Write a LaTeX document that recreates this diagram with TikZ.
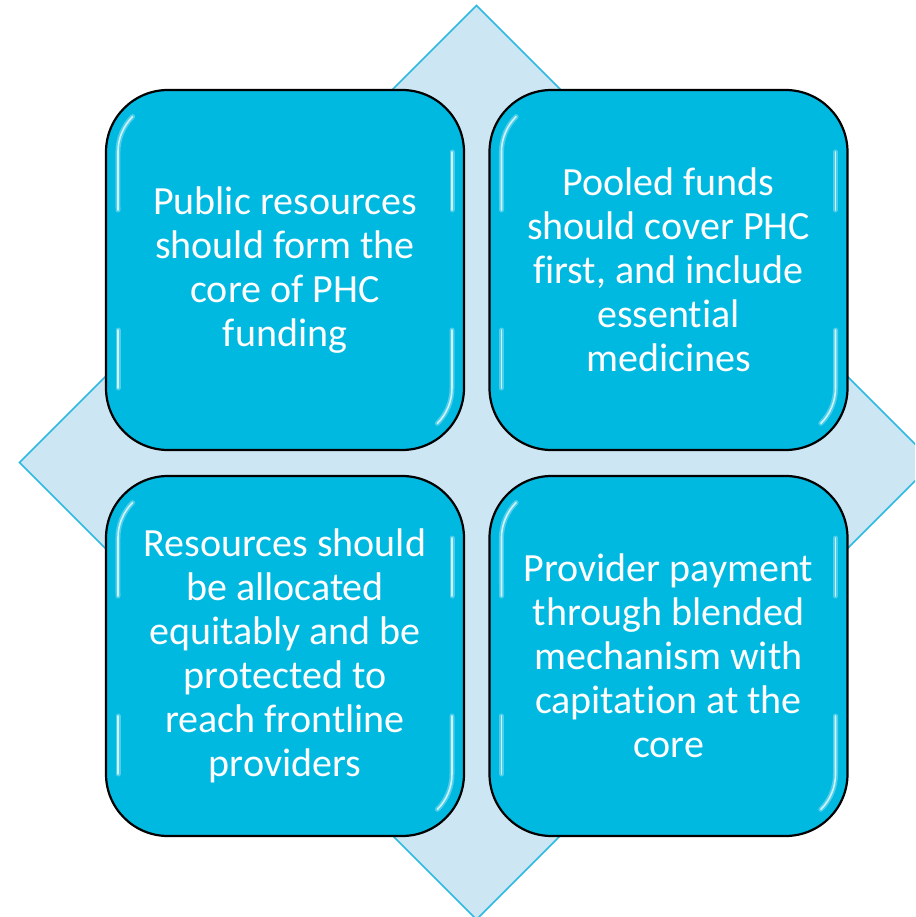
\documentclass[tikz,border=0pt]{standalone}
\usepackage{fontspec}
\setmainfont[Ligatures=NoCommon]{Carlito}
\definecolor{panelblue}{RGB}{0,185,225}
\definecolor{diamondfill}{RGB}{205,230,243}
\definecolor{diamondline}{RGB}{45,185,225}
\tikzset{
  panel/.style={draw=black, line width=2.2pt, fill=panelblue, rounded corners=62pt,
    minimum width=358pt, minimum height=360pt, inner sep=0pt, align=center,
    text=white, font=\fontsize{40}{44}\selectfont},
  glosswide/.style={draw=white, line width=5pt, opacity=0.3, line cap=round},
  glossthin/.style={draw=white, line width=1.6pt, opacity=0.75, line cap=round},
  backdrop/.style={fill=diamondfill, draw=diamondline, line width=1.6pt}
}
% one rounded panel with its bevel highlights, placed at its centre
\newcommand\gpanel[4]{%
  \begin{scope}[shift={(#1,#2)}]
    \node[panel] (#3) at (0,0) {#4};
    \foreach \sty in {glosswide,glossthin}{%
      \draw[\sty] (-152.4,-153.4) arc[start angle=225,end angle=180,radius=50] -- (-167,-60);
      \draw[\sty] (-167,60) -- (-167,118);
      \draw[\sty] (167,-118) -- (167,-60);
      \draw[\sty] (167,60) -- (167,118) arc[start angle=0,end angle=45,radius=50];
    }
  \end{scope}}
\begin{document}
\begin{tikzpicture}[x=1pt,y=-1pt]
  \useasboundingbox (0,0) rectangle (915,917);
  \clip (0,0) rectangle (915,917);
  % background diamond
  \path[backdrop] (476.5,5.5) -- (933.5,462.5) -- (476.5,919.5) -- (19.5,462.5) -- cycle;
  % the four panels
  \gpanel{285}{270}{pubres}{Public resources\\should form the\\core of PHC\\funding}
  \gpanel{668.5}{270}{pooled}{Pooled funds\\should cover PHC\\first, and include\\essential\\medicines}
  \gpanel{285}{656}{alloc}{Resources should\\be allocated\\equitably and be\\protected to\\reach frontline\\providers}
  \gpanel{668.5}{656}{payment}{Provider payment\\through blended\\mechanism with\\capitation at the\\core}
\end{tikzpicture}
\end{document}
